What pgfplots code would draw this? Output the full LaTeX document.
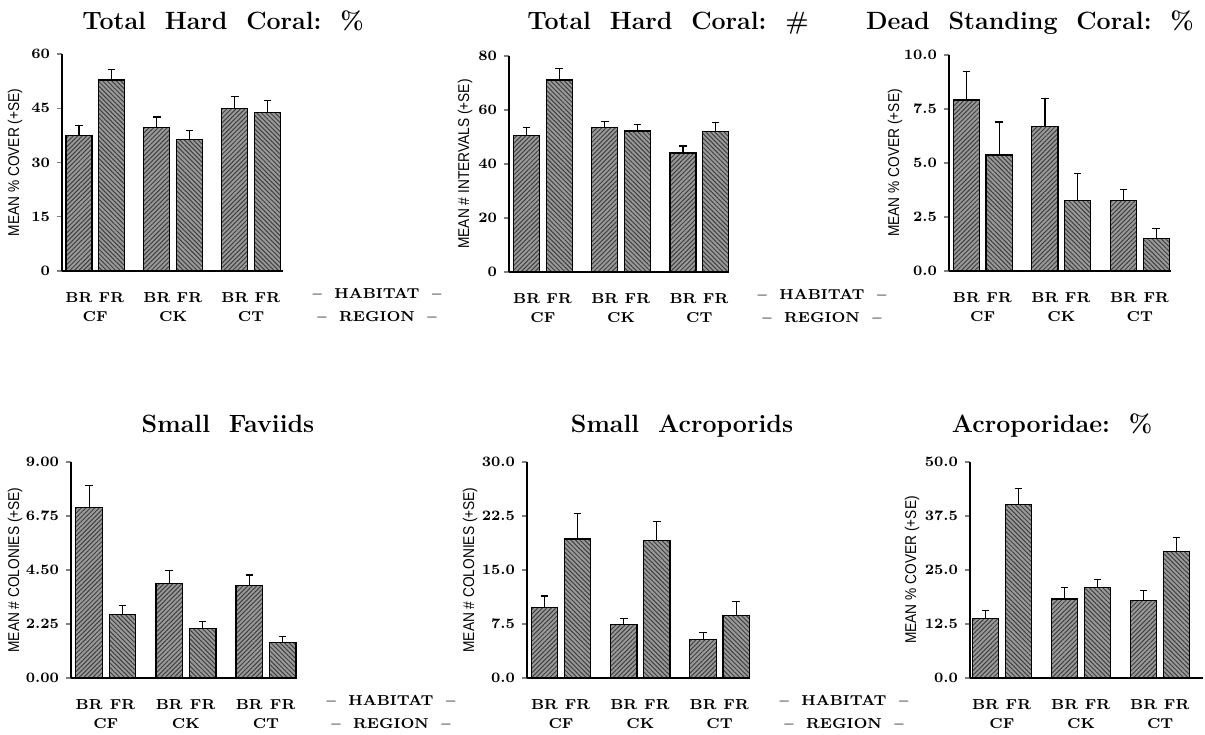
\documentclass[border=0pt]{standalone}
\usepackage{fontspec}
\usepackage{pgfplots}
\pgfplotsset{compat=1.18}
\usetikzlibrary{patterns.meta}
\newfontfamily\narrowfont[FakeStretch=0.88]{Liberation Sans}
\newcommand\labfont{\bfseries\fontsize{7.2}{8}\selectfont}
\pgfplotsset{
  panel/.style={
    scale only axis, anchor=south west, clip=false,
    axis x line=bottom, axis y line=left,
    axis line style={line width=0.75pt,-},
    ymin=0, xtick={0,1,2.4,3.4,4.8,5.8},
    xticklabels={BR,FR,BR,FR,BR,FR},
    xtick style={draw=none},
    xticklabel style={font=\labfont, anchor=center, yshift=-11pt},
    yticklabel style={font=\labfont},
    /pgf/number format/assume math mode=true,
    tick align=outside, major tick length=2.5pt,
    ytick style={line width=0.6pt},
    ylabel style={font=\narrowfont\fontsize{7.8}{8}\selectfont, at={(axis description cs:0,0.5)}, anchor=center},
    ybar, bar width=0.8, bar shift=0pt,
  },
  brbar/.style={draw=black, line width=0.6pt, fill=black!40,
    postaction={pattern={Lines[angle=45,distance=1.6pt,line width=0.5pt]}, pattern color=black!75},
    error bars/.cd, y dir=plus, y explicit,
    error bar style={line width=0.6pt, black},
    error mark options={rotate=90, mark size=1.9pt, line width=0.6pt, black}},
  frbar/.style={draw=black, line width=0.6pt, fill=black!40,
    postaction={pattern={Lines[angle=-45,distance=1.6pt,line width=0.5pt]}, pattern color=black!75},
    error bars/.cd, y dir=plus, y explicit,
    error bar style={line width=0.6pt, black},
    error mark options={rotate=90, mark size=1.9pt, line width=0.6pt, black}},
}
\newcommand\regions{%
  \node[font=\labfont] at (axis cs:0.5,0) [yshift=-23pt] {CF};
  \node[font=\labfont] at (axis cs:2.9,0) [yshift=-23pt] {CK};
  \node[font=\labfont] at (axis cs:5.3,0) [yshift=-23pt] {CT};}
\newcommand\habreg{%
  \node[font=\labfont] at (rel axis cs:1,0) [xshift=47pt,yshift=-11pt] {--\ \ HABITAT\ \ --};
  \node[font=\labfont] at (rel axis cs:1,0) [xshift=47pt,yshift=-23pt] {--\ \ REGION\ \ --};}
\newcommand\ttl[1]{\bfseries\fontsize{12.5}{14}\selectfont #1}
\begin{document}
\begin{tikzpicture}
\useasboundingbox (0,0) rectangle (602.5pt,367pt);
% titles
\node[anchor=base] at (111.5pt,352pt) {\ttl{Total\ \ Hard\ \ Coral:\ \ \%}};
\node[anchor=base] at (334pt,352pt) {\ttl{Total\ \ Hard\ \ Coral:\ \ \#}};
\node[anchor=base] at (515pt,352pt) {\ttl{Dead\ \ Standing\ \ Coral:\ \ \%}};
\node[anchor=base] at (114pt,150.5pt) {\ttl{Small\ \ Faviids}};
\node[anchor=base] at (341pt,150.5pt) {\ttl{Small\ \ Acroporids}};
\node[anchor=base] at (526pt,150.5pt) {\ttl{Acroporidae:\ \ \%}};

% Panel 1
\begin{axis}[panel, at={(31pt,231.5pt)}, width=110.5pt, height=108.5pt,
  xmin=-0.52, xmax=6.28, ymax=60, ytick={0,15,30,45,60},
  ylabel={MEAN \% COVER (+SE)}, ylabel style={yshift=23.5pt}]
\addplot[brbar] table[x=x,y=y,y error=e] {
x y e
0 37.4 2.9
2.4 39.7 2.9
4.8 45.0 3.3
};
\addplot[frbar] table[x=x,y=y,y error=e] {
x y e
1 52.8 3.0
3.4 36.3 2.6
5.8 43.9 3.2
};
\regions\habreg
\end{axis}

% Panel 2
\begin{axis}[panel, at={(254.5pt,231pt)}, width=109.5pt, height=108pt,
  xmin=-0.54, xmax=6.18, ymax=80, ytick={0,20,40,60,80},
  ylabel={MEAN \# INTERVALS (+SE)}, ylabel style={yshift=22pt}]
\addplot[brbar] table[x=x,y=y,y error=e] {
x y e
0 50.7 2.9
2.4 53.6 2.0
4.8 44.1 2.6
};
\addplot[frbar] table[x=x,y=y,y error=e] {
x y e
1 71.1 4.4
3.4 52.2 2.5
5.8 51.9 3.5
};
\regions\habreg
\end{axis}

% Panel 3
\begin{axis}[panel, at={(474.5pt,231.5pt)}, width=111pt, height=108pt,
  xmin=-0.53, xmax=6.25, ymax=10, ytick={0,2.5,5,7.5,10},
  yticklabel style={/pgf/number format/.cd, fixed, fixed zerofill, precision=1},
  ylabel={MEAN \% COVER (+SE)}, ylabel style={yshift=27pt}]
\addplot[brbar] table[x=x,y=y,y error=e] {
x y e
0 7.92 1.31
2.4 6.68 1.30
4.8 3.25 0.52
};
\addplot[frbar] table[x=x,y=y,y error=e] {
x y e
1 5.37 1.53
3.4 3.27 1.25
5.8 1.51 0.47
};
\regions
\end{axis}

% Panel 4
\begin{axis}[panel, at={(35.5pt,28pt)}, width=113pt, height=108pt,
  xmin=-0.545, xmax=6.23, ymax=9, ytick={0,2.25,4.5,6.75,9},
  yticklabel style={/pgf/number format/.cd, fixed, fixed zerofill, precision=2},
  ylabel={MEAN \# COLONIES (+SE)}, ylabel style={yshift=28pt}]
\addplot[brbar] table[x=x,y=y,y error=e] {
x y e
0 7.10 0.93
2.4 3.95 0.52
4.8 3.84 0.45
};
\addplot[frbar] table[x=x,y=y,y error=e] {
x y e
1 2.63 0.39
3.4 2.05 0.30
5.8 1.48 0.25
};
\regions\habreg
\end{axis}

% Panel 5
\begin{axis}[panel, at={(263.5pt,28pt)}, width=111.5pt, height=108pt,
  xmin=-0.53, xmax=6.22, ymax=30, ytick={0,7.5,15,22.5,30},
  yticklabel style={/pgf/number format/.cd, fixed, fixed zerofill, precision=1},
  ylabel={MEAN \# COLONIES (+SE)}, ylabel style={yshift=28.5pt}]
\addplot[brbar] table[x=x,y=y,y error=e] {
x y e
0 9.78 1.6
2.4 7.48 0.83
4.8 5.31 0.97
};
\addplot[frbar] table[x=x,y=y,y error=e] {
x y e
1 19.3 3.55
3.4 19.15 2.55
5.8 8.63 1.97
};
\regions\habreg
\end{axis}

% Panel 6
\begin{axis}[panel, at={(485pt,28pt)}, width=116.5pt, height=108pt,
  xmin=-0.47, xmax=6.6, ymax=50, ytick={0,12.5,25,37.5,50},
  yticklabel style={/pgf/number format/.cd, fixed, fixed zerofill, precision=1},
  ylabel={MEAN \% COVER (+SE)}, ylabel style={yshift=29pt}]
\addplot[brbar] table[x=x,y=y,y error=e] {
x y e
0 13.7 1.9
2.4 18.3 2.6
4.8 17.9 2.3
};
\addplot[frbar] table[x=x,y=y,y error=e] {
x y e
1 40.2 3.6
3.4 20.9 1.9
5.8 29.2 3.3
};
\regions
\end{axis}
\end{tikzpicture}
\end{document}
